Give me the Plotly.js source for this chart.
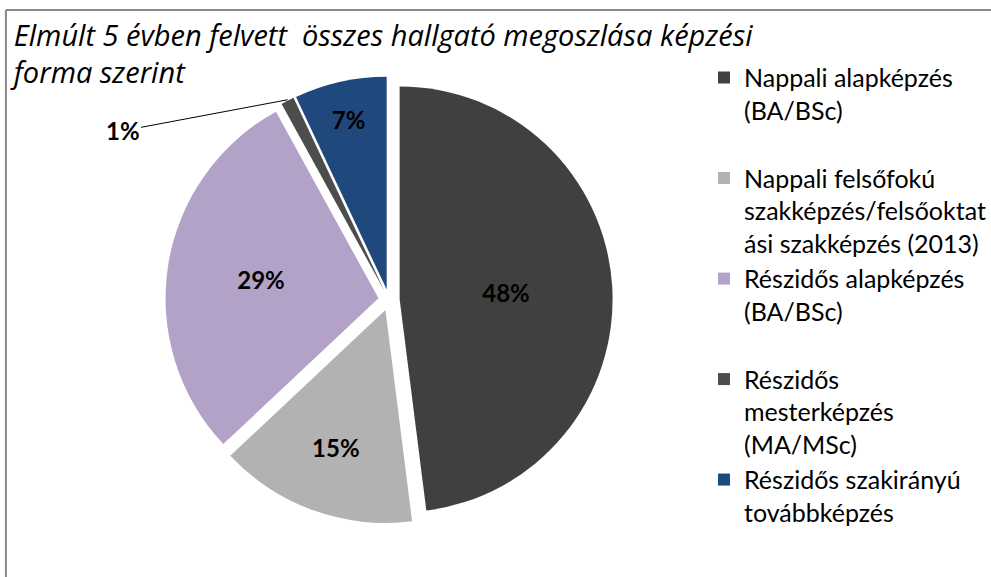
<!DOCTYPE html>
<html>
<head>
<meta charset="utf-8">
<script src="https://cdn.plot.ly/plotly-3.0.1.min.js"></script>
<style>html,body{margin:0;padding:0;background:#fff;}#chart{width:991px;height:577px;}</style>
</head>
<body>
<div id="chart"></div>
<script>
// Data
const categories = [
  "Nappali alapképzés<br>(BA/BSc)<br> ",
  "Nappali felsőfokú<br>szakképzés/felsőoktat<br>ási szakképzés (2013)",
  "Részidős alapképzés<br>(BA/BSc)<br> ",
  "Részidős<br>mesterképzés<br>(MA/MSc)",
  "Részidős szakirányú<br>továbbképzés"
];
const values = [48, 15, 29, 1, 7];
const sliceColors = ["#404040", "#b2b2b2", "#b3a2c7", "#4d4d4d", "#1f497d"];
const titleText = "Elmúlt 5 évben felvett  összes hallgató megoszlása képzési<br>forma szerint";

const W = 991, H = 577;
const pull = 0.05;
const domX = [0.1678, 0.6213];
const domY = [0.0906, 0.8695];

// label text: the tiny slice gets an external callout label
const total = values.reduce((a, b) => a + b, 0);
const smallIdx = values.indexOf(Math.min(...values));
const texts = values.map((v, i) => i === smallIdx ? "" : Math.round(v / total * 100) + "%");

// callout geometry derived from the pie's own domain and the slice's value
const wpx = (domX[1] - domX[0]) * W, hpx = (domY[1] - domY[0]) * H;
const r = Math.min(wpx, hpx) / (2 * (1 + pull));
const cx = (domX[0] + domX[1]) / 2 * W;
const cy = (1 - (domY[0] + domY[1]) / 2) * H;
let cum = 0;
for (let i = 0; i < smallIdx; i++) cum += values[i];
const midAng = (cum + values[smallIdx] / 2) / total * 2 * Math.PI;
const tipX = cx + (r * (1 + pull)) * Math.sin(midAng);
const tipY = cy - (r * (1 + pull)) * Math.cos(midAng);

const trace = {
  type: "pie",
  labels: categories,
  values: values,
  sort: false,
  direction: "clockwise",
  rotation: 0,
  pull: pull,
  marker: { colors: sliceColors, line: { width: 0 } },
  text: texts,
  textinfo: "text",
  textposition: "inside",
  insidetextorientation: "horizontal",
  textfont: { family: "Lato, sans-serif", size: 24, color: "#000", weight: "bold" },
  domain: { x: domX, y: domY },
  hoverinfo: "label+percent"
};

const layout = {
  width: W, height: H,
  margin: { l: 0, r: 0, t: 0, b: 0 },
  paper_bgcolor: "#fff",
  plot_bgcolor: "#fff",
  showlegend: true,
  title: {
    text: "<i>" + titleText + "</i>",
    font: { family: "Open Sans, sans-serif", size: 29, color: "#000" },
    x: 0.014, xanchor: "left", xref: "paper",
    y: 0.921, yanchor: "top", yref: "container"
  },
  legend: {
    x: 0.714, xanchor: "left",
    y: 0.905, yanchor: "top",
    valign: "top",
    font: { family: "Lato, sans-serif", size: 25, color: "#000" },
    bgcolor: "rgba(0,0,0,0)"
  },
  shapes: [
    { type: "line", xref: "paper", yref: "paper", x0: 0.006, x1: 1.02, y0: 1 - 10 / H, y1: 1 - 10 / H, line: { color: "#888", width: 2 } },
    { type: "line", xref: "paper", yref: "paper", x0: 0.006, x1: 0.006, y0: 1 - 10 / H, y1: -0.05, line: { color: "#888", width: 2 } }
  ],
  annotations: [{
    text: "<b>" + Math.round(values[smallIdx] / total * 100) + "%</b>",
    font: { family: "Lato, sans-serif", size: 24, color: "#000" },
    xref: "paper", yref: "paper",
    x: tipX / W, y: 1 - tipY / H,
    showarrow: true, arrowhead: 0, arrowwidth: 1, arrowcolor: "#000",
    standoff: 0,
    ax: -165, ay: 31
  }]
};

Plotly.newPlot("chart", [trace], layout, { displayModeBar: false, staticPlot: true });
</script>
</body>
</html>
